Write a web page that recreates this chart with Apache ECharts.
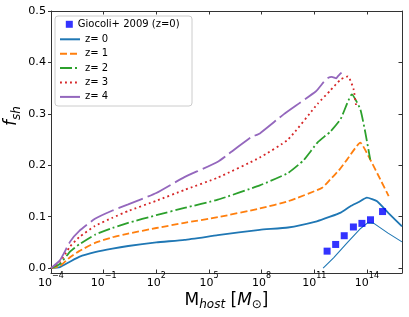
<!DOCTYPE html>
<html>
<head>
<meta charset="utf-8">
<script src="https://cdn.jsdelivr.net/npm/echarts@6/dist/echarts.min.js"></script>
<style>html,body{margin:0;padding:0;background:#fff;}#c{width:409px;height:317px;}</style>
</head>
<body>
<div id="c"></div>
<script>
// ---- data (halo host mass in Msun, subhalo fraction f_sh) ----
const z0Mass = [1e-4, 3.2e-4, 1.26e-3, 4.0e-3, 3.2e-2, 0.32, 2.5, 100, 4.0e3, 3.2e5, 7.9e7, 3.2e9, 1.4e11, 8e11, 3.2e12, 1.1e13, 3.2e13, 1e14, 3.8e14, 1.7e15, 1e16];
const z0F    = [0, 0.002, 0.013, 0.022, 0.031, 0.038, 0.043, 0.050, 0.055, 0.064, 0.0745, 0.079, 0.091, 0.100, 0.108, 0.120, 0.128, 0.137, 0.130, 0.107, 0.081];

const z1Mass = [1e-4, 3.2e-4, 1.26e-3, 4.0e-3, 3.2e-2, 0.32, 2.5, 100, 4.0e3, 3.2e5, 7.9e7, 3.2e9, 2.75e11, 8e11, 2.5e12, 7.4e12, 4.2e13, 1.55e14, 5.9e14, 1.74e15];
const z1F    = [0, 0.004, 0.0216, 0.033, 0.049, 0.060, 0.067, 0.078, 0.088, 0.099, 0.116, 0.130, 0.156, 0.172, 0.190, 0.211, 0.244, 0.211, 0.172, 0.140];

const z2Mass = [1e-4, 3.2e-4, 1.26e-3, 4.0e-3, 3.2e-2, 0.32, 2.5, 100, 4.0e3, 3.2e5, 7.9e7, 3.2e9, 2.5e10, 1.6e11, 8e11, 3.2e12, 1.4e13, 4.2e13, 8.1e13, 1.55e14];
const z2F    = [0, 0.008, 0.0326, 0.046, 0.065, 0.078, 0.088, 0.103, 0.117, 0.133, 0.161, 0.185, 0.210, 0.245, 0.265, 0.290, 0.338, 0.309, 0.264, 0.211];

const z3Mass = [1e-4, 3.2e-4, 1.26e-3, 4.0e-3, 3.2e-2, 0.32, 2.5, 100, 4.0e3, 3.2e5, 7.9e7, 3.2e9, 1.6e11, 8e11, 3.2e12, 8.3e12, 1.74e13, 2.5e13];
const z3F    = [0, 0.012, 0.0425, 0.060, 0.082, 0.098, 0.111, 0.131, 0.152, 0.176, 0.215, 0.250, 0.320, 0.345, 0.367, 0.373, 0.348, 0.312];

const z4Mass = [1e-4, 3.2e-4, 1.26e-3, 4.0e-3, 3.2e-2, 0.32, 2.5, 100, 4.0e3, 3.2e5, 2.3e7, 7.9e7, 1.8e9, 1.26e11, 3.5e11, 6.3e11, 1e12, 1.8e12, 2.2e12, 3.6e12];
const z4F    = [0, 0.015, 0.052, 0.072, 0.096, 0.112, 0.124, 0.146, 0.177, 0.207, 0.254, 0.262, 0.299, 0.344, 0.362, 0.370, 0.372, 0.369, 0.373, 0.380];

const thinMass = [3.2e11, 1.26e12, 7.9e12, 4e13, 1.1e14, 2.5e14, 1.6e15, 1e16];
const thinF    = [0, 0.020, 0.050, 0.076, 0.088, 0.087, 0.068, 0.051];

const giocoliMass = [5.4e11, 1.66e12, 5.1e12, 1.7e13, 5.2e13, 1.6e14, 7.8e14];
const giocoliF    = [0.033, 0.046, 0.063, 0.080, 0.087, 0.094, 0.110];

const seriesNames = ['z= 0', 'z= 1', 'z= 2', 'z= 3', 'z= 4'];
const scatterName = 'Giocoli+ 2009 (z=0)';
const yTicks = [0, 0.1, 0.2, 0.3, 0.4, 0.5];

// ---- build ----
const pairs = (xs, ys) => xs.map((x, i) => [x, ys[i]]);
const FONT = 'DejaVu Sans';
const colors = ['#1f77b4', '#ff7f0e', '#2ca02c', '#d62728', '#9467bd'];
const dashes = ['solid', [7, 3], [12, 3, 2, 3], [1.9, 3.1], [26, 5]];
const curves = [[z0Mass, z0F], [z1Mass, z1F], [z2Mass, z2F], [z3Mass, z3F], [z4Mass, z4F]];

const lineSeries = curves.map((c, i) => ({
  type: 'line', name: seriesNames[i], data: pairs(c[0], c[1]),
  symbol: 'none', smooth: 0.15, z: 2,
  lineStyle: { color: colors[i], width: 1.8, type: dashes[i] },
  itemStyle: { color: colors[i] }
}));

const supFmt = v => {
  const e = Math.round(Math.log10(v));
  return '{b|10}{s|' + (e < 0 ? '\u2212' + (-e) : e) + '}';
};

const subStyle = (italic) => ({
  fontFamily: FONT, fontSize: 12, fontStyle: italic ? 'italic' : 'normal',
  lineHeight: 10, verticalAlign: 'top', padding: [8.4, 0, 0, 0], color: '#000', fill: '#000'
});
const mainStyle = (italic) => ({
  fontFamily: FONT, fontSize: 17, fontStyle: italic ? 'italic' : 'normal',
  lineHeight: 20, color: '#000', fill: '#000'
});

const chart = echarts.init(document.getElementById('c'), null, { renderer: 'canvas' });
chart.setOption({
  animation: false,
  backgroundColor: '#fff',
  textStyle: { fontFamily: FONT },
  grid: { left: 51, top: 11, width: 351, height: 262, containLabel: false, outerBoundsMode: 'none' },
  xAxis: [{
    type: 'log', logBase: 10, min: 1e-4, max: 1e16, interval: 3, position: 'bottom',
    axisLine: { show: true, onZero: false, lineStyle: { color: '#333', width: 1 } },
    axisTick: { show: true, inside: true, length: 3.5, lineStyle: { color: '#333', width: 1 } },
    minorTick: { show: false }, splitLine: { show: false },
    axisLabel: {
      interval: 0, showMaxLabel: false, margin: -1.2, formatter: supFmt, color: '#000',
      rich: {
        b: { fontFamily: FONT, fontSize: 11, lineHeight: 22, color: '#000' },
        s: { fontFamily: FONT, fontSize: 8, lineHeight: 8, verticalAlign: 'top', color: '#000' }
      }
    },
    name: '{r|M}{si|host}{r| [}{i|M}{s|\u2299}{r|]}',
    nameLocation: 'middle', nameGap: 17.5, nameMoveOverlap: false,
    nameTextStyle: {
      color: '#000',
      rich: { r: mainStyle(false), i: mainStyle(true), si: subStyle(true), s: subStyle(false) }
    }
  }, {
    type: 'log', logBase: 10, min: 1e-4, max: 1e16, interval: 3, position: 'top',
    axisLine: { show: true, onZero: false, lineStyle: { color: '#333', width: 1 } },
    axisTick: { show: true, inside: true, length: 3.5, lineStyle: { color: '#333', width: 1 } },
    axisLabel: { show: false }, splitLine: { show: false }
  }],
  yAxis: [{
    type: 'value', min: -0.0095, max: 0.5, position: 'left',
    axisLine: { show: true, onZero: false, lineStyle: { color: '#333', width: 1 } },
    axisTick: { show: true, inside: false, length: 3, customValues: yTicks, lineStyle: { color: '#333', width: 1 } },
    axisLabel: { customValues: yTicks, margin: 5, color: '#000', fontSize: 11.2, fontFamily: FONT, formatter: v => v.toFixed(1) },
    splitLine: { show: false }
  }, {
    type: 'value', min: -0.0095, max: 0.5, position: 'right',
    axisLine: { show: true, onZero: false, lineStyle: { color: '#333', width: 1 } },
    axisTick: { show: true, inside: true, length: 3.5, customValues: yTicks, lineStyle: { color: '#333', width: 1 } },
    axisLabel: { show: false }, splitLine: { show: false }
  }],
  legend: [{
    data: [scatterName], orient: 'vertical', left: 65.8, top: 17.3, padding: 0,
    itemWidth: 7, itemHeight: 7, itemTextGap: 14.9, icon: 'rect',
    textStyle: { fontFamily: FONT, fontSize: 10, lineHeight: 14, color: '#000' }
  }, {
    data: seriesNames, orient: 'vertical', left: 59, top: 32.3, padding: 0,
    itemWidth: 20, itemHeight: 14, itemGap: 0.4, itemTextGap: 8.7,
    itemStyle: { opacity: 0, borderWidth: 0 },
    textStyle: { fontFamily: FONT, fontSize: 10, lineHeight: 14, color: '#000' }
  }],
  graphic: [{
    type: 'rect', z: 3, silent: true,
    shape: { x: 55, y: 16, width: 137, height: 90, r: 3 },
    style: { fill: 'rgba(255,255,255,0.8)', stroke: '#cccccc', lineWidth: 1 }
  }, {
    type: 'text', x: 12, y: 116, rotation: Math.PI / 2, z: 5,
    style: {
      text: '{i|f}{si|sh}', align: 'center', verticalAlign: 'middle',
      rich: { i: mainStyle(true), si: subStyle(true) }
    }
  }],
  series: lineSeries.concat([{
    type: 'line', name: 'z=0 (thin)', data: pairs(thinMass, thinF), symbol: 'none', z: 2,
    lineStyle: { color: '#1f77b4', width: 1.1 }, itemStyle: { color: '#1f77b4' }
  }, {
    type: 'scatter', name: scatterName, data: pairs(giocoliMass, giocoliF),
    symbol: 'rect', symbolSize: 7, z: 3, itemStyle: { color: '#0000ff' }
  }])
});
</script>
</body>
</html>
